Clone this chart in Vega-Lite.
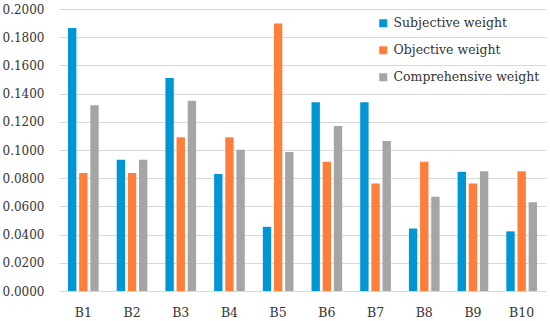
{
  "$schema": "https://vega.github.io/schema/vega-lite/v6.json",
  "width": 550,
  "height": 321,
  "autosize": {"type": "fit", "contains": "padding"},
  "padding": {"left": 2, "top": 3, "right": 4, "bottom": 2},
  "background": "white",
  "data": {
    "values": [
      {"c": "B1", "s": "Subjective weight", "v": 0.1865},
      {"c": "B1", "s": "Objective weight", "v": 0.0836},
      {"c": "B1", "s": "Comprehensive weight", "v": 0.1317},
      {"c": "B2", "s": "Subjective weight", "v": 0.0930},
      {"c": "B2", "s": "Objective weight", "v": 0.0836},
      {"c": "B2", "s": "Comprehensive weight", "v": 0.0930},
      {"c": "B3", "s": "Subjective weight", "v": 0.1510},
      {"c": "B3", "s": "Objective weight", "v": 0.1090},
      {"c": "B3", "s": "Comprehensive weight", "v": 0.1350},
      {"c": "B4", "s": "Subjective weight", "v": 0.0830},
      {"c": "B4", "s": "Objective weight", "v": 0.1090},
      {"c": "B4", "s": "Comprehensive weight", "v": 0.1002},
      {"c": "B5", "s": "Subjective weight", "v": 0.0455},
      {"c": "B5", "s": "Objective weight", "v": 0.1897},
      {"c": "B5", "s": "Comprehensive weight", "v": 0.0985},
      {"c": "B6", "s": "Subjective weight", "v": 0.1338},
      {"c": "B6", "s": "Objective weight", "v": 0.0916},
      {"c": "B6", "s": "Comprehensive weight", "v": 0.1170},
      {"c": "B7", "s": "Subjective weight", "v": 0.1338},
      {"c": "B7", "s": "Objective weight", "v": 0.0763},
      {"c": "B7", "s": "Comprehensive weight", "v": 0.1063},
      {"c": "B8", "s": "Subjective weight", "v": 0.0443},
      {"c": "B8", "s": "Objective weight", "v": 0.0916},
      {"c": "B8", "s": "Comprehensive weight", "v": 0.0669},
      {"c": "B9", "s": "Subjective weight", "v": 0.0845},
      {"c": "B9", "s": "Objective weight", "v": 0.0763},
      {"c": "B9", "s": "Comprehensive weight", "v": 0.0850},
      {"c": "B10", "s": "Subjective weight", "v": 0.0423},
      {"c": "B10", "s": "Objective weight", "v": 0.0850},
      {"c": "B10", "s": "Comprehensive weight", "v": 0.0629}
    ]
  },
  "mark": {"type": "bar"},
  "encoding": {
    "x": {
      "field": "c", "type": "nominal", "sort": null,
      "scale": {"paddingInner": 0.37, "paddingOuter": 0.185},
      "axis": {"title": null, "labelAngle": 0, "labelFont": "DejaVu Serif", "labelFontSize": 12.5, "labelColor": "#333", "labelPadding": 15, "ticks": false, "domainColor": "#d9d9d9", "domainWidth": 1}
    },
    "xOffset": {
      "field": "s", "type": "nominal",
      "sort": ["Subjective weight", "Objective weight", "Comprehensive weight"],
      "scale": {"paddingInner": 0.25, "paddingOuter": 0}
    },
    "y": {
      "field": "v", "type": "quantitative",
      "scale": {"domain": [0, 0.2], "nice": false},
      "axis": {"title": null, "format": ".4f", "values": [0, 0.02, 0.04, 0.06, 0.08, 0.1, 0.12, 0.14, 0.16, 0.18, 0.2], "labelOverlap": false, "labelFont": "DejaVu Serif", "labelFontSize": 12, "labelColor": "#333", "labelPadding": 15, "ticks": false, "domain": false, "gridColor": "#d9d9d9", "gridWidth": 1}
    },
    "color": {
      "field": "s", "type": "nominal",
      "sort": ["Subjective weight", "Objective weight", "Comprehensive weight"],
      "scale": {"domain": ["Subjective weight", "Objective weight", "Comprehensive weight"], "range": ["#0096D6", "#FF7F3A", "#A5A5A5"]},
      "legend": {
        "title": null, "orient": "none", "legendX": 318, "legendY": 8,
        "symbolType": "square", "symbolSize": 64, "symbolStrokeWidth": 0,
        "labelFont": "DejaVu Serif", "labelFontSize": 12.5, "labelColor": "#333",
        "rowPadding": 14, "labelOffset": 4
      }
    }
  },
  "config": {
    "font": "DejaVu Serif",
    "view": {"stroke": null}
  }
}
